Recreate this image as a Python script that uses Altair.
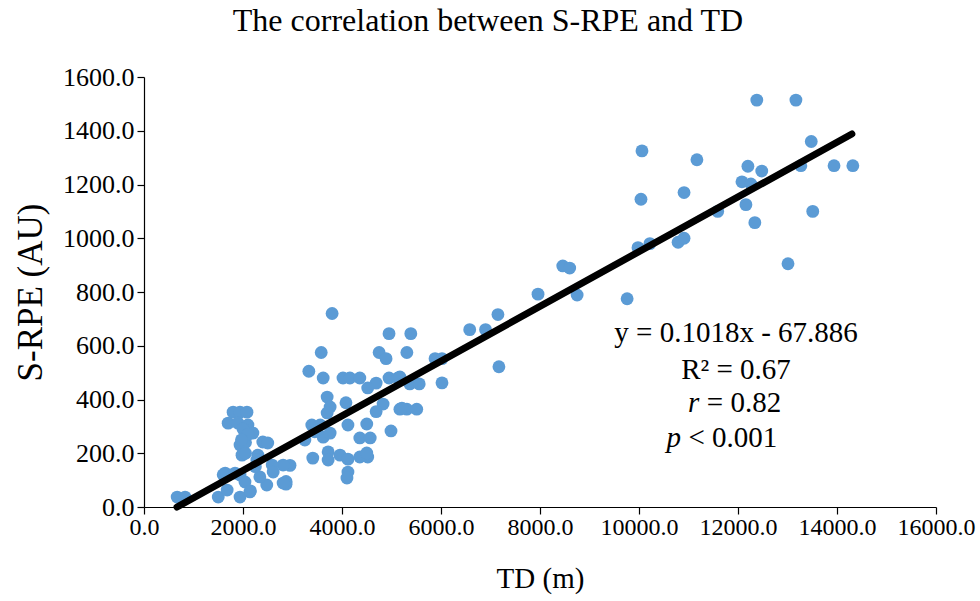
import altair as alt
import pandas as pd

# ---- data ----
td = [
    12380, 13170, 10060, 11170, 12200, 12480, 13480, 13940, 14320, 13270, 12080, 12260,
    12160, 10040, 10910, 11590, 12340, 13510, 13010, 9760, 9980, 10220, 10790, 10910,
    8460, 8600, 7960, 8750, 7150, 7170, 6580, 6900, 5390, 4950, 5880, 6020, 6020, 5310,
    4750, 4890, 3800, 3580, 3330, 3620, 4020, 4160, 4360, 4690, 4520, 4950, 5130, 5170,
    5370, 5560, 5170, 5310, 5510, 3700, 3760, 4080, 3700, 4830, 4690, 5210, 4990, 3390,
    4120, 4500, 3250, 3620, 3760, 4360, 4570, 3410, 3720, 3720, 3960, 4120, 4360, 4520,
    4500, 4120, 4100, 2950, 2870, 2870, 3450, 3560,
    1800, 1940, 2080, 1700, 1900, 2100, 2200, 1940, 2050, 1980, 2400, 2500, 2300, 2280,
    2810, 2590, 1640, 1840, 2610, 2480, 2810, 1500, 1940, 1680, 2140, 670, 830, 1940,
    2040, 2340, 2000, 2100, 2250, 2150, 1600, 2050, 1970,
]
srpe = [
    1514, 1514, 1325, 1292, 1268, 1250, 1360, 1270, 1270, 1270, 1210, 1202,
    1125, 1145, 1170, 1100, 1058, 1100, 905, 775, 965, 980, 985, 1000,
    897, 889, 792, 789, 716, 522, 660, 660, 645, 645, 552, 552, 462, 575,
    575, 552, 720, 575, 505, 480, 480, 480, 480, 461, 443, 480, 480, 484,
    458, 458, 364, 364, 364, 409, 372, 388, 350, 383, 355, 368, 283, 305,
    305, 309, 249, 260, 275, 257, 257, 182, 205, 175, 193, 178, 186, 186,
    201, 130, 108, 155, 95, 85, 280, 305,
    353, 353, 353, 312, 312, 305, 275, 231, 240, 193, 242, 238, 193, 175,
    156, 156, 126, 126, 130, 82, 89, 37, 37, 63, 56, 37, 37, 119,
    93, 112, 290, 270, 150, 60, 120, 200, 250,
]

# trend line y = 0.1018x - 67.886 (end points)
trend_td = [667, 14300]
trend_srpe = [0, 1388]

x_ticks = [0, 2000, 4000, 6000, 8000, 10000, 12000, 14000, 16000]
y_ticks = [0, 200, 400, 600, 800, 1000, 1200, 1400, 1600]

ann_plain_text = ["y = 0.1018x - 67.886", "R\u00b2 = 0.67"]
ann_plain_td = [11960, 11960]
ann_plain_srpe = [647, 508]

ann_ital_text = ["r", "p"]
ann_rest_text = ["\u00a0= 0.82", "\u00a0< 0.001"]
ann_ital_td = [11220, 10850]
ann_rest_td = [11370, 11000]
ann_split_srpe = [387, 255]

FONT = "Liberation Serif"

pts = pd.DataFrame({"td": td, "srpe": srpe})
trend = pd.DataFrame({"td": trend_td, "srpe": trend_srpe})
ann1 = pd.DataFrame({"td": ann_plain_td, "srpe": ann_plain_srpe, "t": ann_plain_text})
ann_i = pd.DataFrame({"td": ann_ital_td, "srpe": ann_split_srpe, "t": ann_ital_text})
ann_r = pd.DataFrame({"td": ann_rest_td, "srpe": ann_split_srpe, "t": ann_rest_text})

xs = alt.Scale(domain=[0, 16000], nice=False)
ys = alt.Scale(domain=[0, 1600], nice=False)

x_enc = alt.X("td:Q", scale=xs, title="TD (m)",
              axis=alt.Axis(values=x_ticks, format=".1f", labelOverlap=False,
                            labelFlush=False, labelFontSize=24,
                            labelPadding=1, titlePadding=25, titleFontSize=29))
y_enc = alt.Y("srpe:Q", scale=ys, title="S-RPE (AU)",
              axis=alt.Axis(values=y_ticks, format=".1f", labelPadding=3,
                            labelFlush=False, labelFontSize=26,
                            titlePadding=14, titleFontSize=35))

points = alt.Chart(pts).mark_circle(size=165, color="#5B9BD5", opacity=1).encode(
    x=x_enc, y=y_enc)

line = alt.Chart(trend).mark_line(color="black", strokeWidth=7, strokeCap="round").encode(
    x="td:Q", y="srpe:Q")

txt1 = alt.Chart(ann1).mark_text(font=FONT, fontSize=29, color="black",
                                 align="center", baseline="middle").encode(
    x="td:Q", y="srpe:Q", text="t:N")
txt_it = alt.Chart(ann_i).mark_text(font=FONT, fontSize=29, color="black", fontStyle="italic",
                                    align="right", baseline="middle").encode(
    x="td:Q", y="srpe:Q", text="t:N")
txt_rest = alt.Chart(ann_r).mark_text(font=FONT, fontSize=29, color="black",
                                      align="left", baseline="middle").encode(
    x="td:Q", y="srpe:Q", text="t:N")

chart = alt.layer(points, line, txt1, txt_it, txt_rest).properties(
    width=792, height=430,
    padding={"left": 144, "top": 77, "right": 44, "bottom": 94},
    autosize=alt.AutoSizeParams(type="none"),
    background="white",
    title=alt.TitleParams(text="The correlation between S-RPE and TD", font=FONT,
                          fontSize=32, fontWeight="normal", color="black",
                          anchor="middle", dx=-52, offset=26),
).configure_view(strokeWidth=0).configure_axis(
    grid=False, domainColor="black", domainWidth=1.2, tickColor="black", tickWidth=1.2,
    tickSize=7, labelFont=FONT, labelColor="black",
    titleFont=FONT, titleFontWeight="normal", titleColor="black",
)

chart.save("out.html", embed_options={"renderer": "svg", "actions": False})
